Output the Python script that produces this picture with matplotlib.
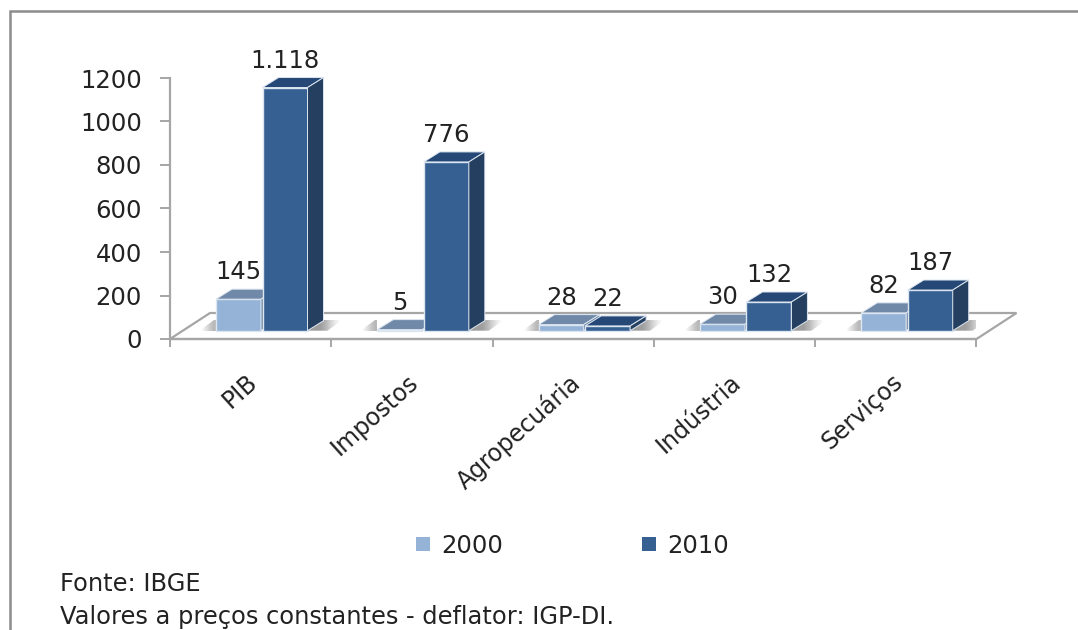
import matplotlib
matplotlib.use("Agg")
import matplotlib.pyplot as plt
import numpy as np
from matplotlib.lines import Line2D
from matplotlib.patches import Patch, Polygon

categories = ["PIB", "Impostos", "Agropecuária", "Indústria", "Serviços"]
years = ["2000", "2010"]
values_2000 = [145, 5, 28, 30, 82]
values_2010 = [1118, 776, 22, 132, 187]
y_ticks = [0, 200, 400, 600, 800, 1000, 1200]
footer_1 = "Fonte: IBGE"
footer_2 = "Valores a preços constantes - deflator: IGP-DI."

W, H = 1078, 630
fig = plt.figure(figsize=(W / 100, H / 100), dpi=100, facecolor="white")
ax = fig.add_axes([170 / W, (H - 339) / H, 806.5 / W, 261 / H], facecolor="none")
ax.set_xlim(0, 5)
ax.set_ylim(0, 1200)

# pixel -> data helpers for the pseudo-3D projection
PX = 5 / 806.5
PY = 1200 / 261
AXIS = "#A6A6A6"
TEXT = "#222222"
front = {"2000": "#95B3D7", "2010": "#376092"}
top = {"2000": "#7089A9", "2010": "#264876"}
side = {"2000": "#6F86A3", "2010": "#243F60"}
EDGE = "#DCE6F1"

bar_w = 45 * PX
gap = 1.5 * PX
center = 0.569
base = 8.3 * PY
dx, dy = 16 * PX, 10 * PY

# floor
fx, fy = 40 * PX, 26 * PY
ax.add_patch(Polygon([(0, 0), (fx, fy), (5 + fx, fy), (5, 0)], closed=True, fc="white",
                     ec=AXIS, lw=1.6, clip_on=False, zorder=1))


def shadow(x0, x1, y0, y1, grad, pts):
    im = ax.imshow(np.asarray(grad, dtype=float)[None, :], cmap="gray", vmin=0, vmax=1,
                   extent=(x0, x1, y0, y1), aspect="auto", zorder=2, interpolation="bilinear")
    im.set_clip_path(Polygon(pts, closed=True, transform=ax.transData))


shade_left = [1.0, 0.9, 0.8, 0.72]
shade_right = [0.62, 0.62, 0.62, 0.7, 0.82, 0.92, 1.0]

for i in range(len(categories)):
    c = i + center
    left = c - bar_w - gap / 2
    right = c + bar_w + gap / 2
    y0, y1 = base, base + dy * 1.1
    s = 15 * PX
    xl = left - 17 * PX
    xr = right + 35 * PX
    shadow(xl, left, y0, y1, shade_left, [(xl, y0), (left, y0), (left, y1), (xl + s, y1)])
    shadow(right, xr, y0, y1, shade_right, [(right, y0), (xr - s, y0), (xr, y1), (right + s, y1)])


def draw_bar(x, v, yr):
    y0, y1 = base, base + v
    x1 = x + bar_w
    ax.bar(x, v, width=bar_w, bottom=base, align="edge", color=front[yr], edgecolor=EDGE,
           linewidth=1.0, clip_on=False, zorder=3)
    ax.add_patch(Polygon([(x, y1), (x + dx, y1 + dy), (x1 + dx, y1 + dy), (x1, y1)], closed=True,
                         fc=top[yr], ec=EDGE, lw=0.7, clip_on=False, zorder=3))
    ax.add_patch(Polygon([(x1, y0), (x1 + dx, y0 + dy), (x1 + dx, y1 + dy), (x1, y1)], closed=True,
                         fc=side[yr], ec=EDGE, lw=0.7, clip_on=False, zorder=3))


def label(x, v):
    ax.annotate(f"{v:,}".replace(",", "."), (x + bar_w / 2, base + v + dy), xytext=(0, 12.2),
                textcoords="offset points", ha="center", va="center", fontsize=17.5,
                color=TEXT, zorder=6, annotation_clip=False)


for i, (a, b) in enumerate(zip(values_2000, values_2010)):
    xa = i + center - bar_w - gap / 2
    xb = i + center + gap / 2
    draw_bar(xa, a, "2000")
    draw_bar(xb, b, "2010")
    label(xa, a)
    label(xb, b)

# axes
for s_name in ("top", "right"):
    ax.spines[s_name].set_visible(False)
for s_name in ("left", "bottom"):
    ax.spines[s_name].set_color(AXIS)
    ax.spines[s_name].set_linewidth(1.6)
    ax.spines[s_name].set_zorder(5)
ax.set_yticks(y_ticks)
ax.set_yticklabels([str(t) for t in y_ticks], fontsize=17.5, color=TEXT)
ax.tick_params(axis="y", length=7.2, width=1.4, color=AXIS, pad=13)
ax.set_xticks(range(len(categories) + 1))
ax.set_xticklabels([])
ax.tick_params(axis="x", which="major", length=5.8, width=1.4, color=AXIS)
ax.set_xticks(np.arange(len(categories)) + 0.47, minor=True)
ax.set_xticklabels(categories, minor=True, fontsize=17, color=TEXT, rotation=42,
                   ha="right", va="top", rotation_mode="anchor")
ax.tick_params(axis="x", which="minor", length=0, pad=22)

# legend
handles = [Patch(fc=front[y], ec="none") for y in years]
fig.legend(handles, years, loc="center", bbox_to_anchor=(572.5 / W, 1 - 546 / H), ncol=2,
           frameon=False, fontsize=17.5, handlelength=0.57, handleheight=0.52,
           handletextpad=0.45, columnspacing=5.75, labelcolor=TEXT, borderpad=0, borderaxespad=0)

# footer
fig.text(60 / W, 1 - 584 / H, footer_1, fontsize=17.4, color=TEXT, va="center", ha="left")
fig.text(60 / W, 1 - 617 / H, footer_2, fontsize=17.4, color=TEXT, va="center", ha="left")

# outer frame
BORDER = "#8C8C8C"
fig.add_artist(Line2D([10 / W, 10 / W, 1], [0, 1 - 11 / H, 1 - 11 / H], transform=fig.transFigure,
                      color=BORDER, lw=1.8, solid_joinstyle="miter"))

fig.savefig("out.png", dpi=100)
